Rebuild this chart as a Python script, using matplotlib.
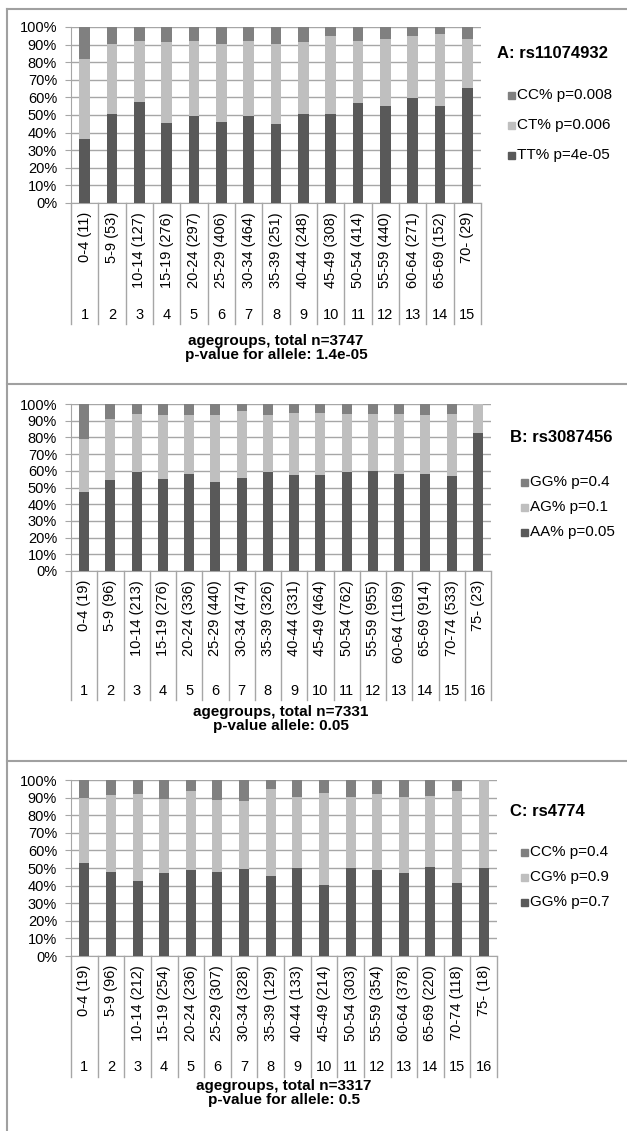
import matplotlib.pyplot as plt
from matplotlib.patches import Rectangle
from matplotlib.lines import Line2D
from matplotlib import transforms

plt.rcParams['font.family'] = ['Liberation Sans', 'DejaVu Sans']

W, H = 627, 1131

# panel A: rs11074932
groups_a = ['0-4 (11)', '5-9 (53)', '10-14 (127)', '15-19 (276)', '20-24 (297)',
            '25-29 (406)', '30-34 (464)', '35-39 (251)', '40-44 (248)', '45-49 (308)',
            '50-54 (414)', '55-59 (440)', '60-64 (271)', '65-69 (152)', '70- (29)']
tt_a = [36.2, 50.8, 57.2, 45.5, 49.6, 46.2, 49.6, 44.7, 50.6, 50.8, 56.6, 55.1, 59.8, 55.1, 65.2]
ct_a = [45.4, 39.5, 34.8, 46.0, 42.3, 44.3, 42.3, 45.5, 40.7, 44.3, 35.6, 38.1, 34.9, 40.9, 27.8]
cc_a = [18.4, 9.7, 8.0, 8.5, 8.1, 9.5, 8.1, 9.8, 8.7, 4.9, 7.8, 6.8, 5.3, 4.0, 7.0]
legend_a = ['CC% p=0.008', 'CT% p=0.006', 'TT% p=4e-05']

# panel B: rs3087456
groups_b = ['0-4 (19)', '5-9 (96)', '10-14 (213)', '15-19 (276)', '20-24 (336)',
            '25-29 (440)', '30-34 (474)', '35-39 (326)', '40-44 (331)', '45-49 (464)',
            '50-54 (762)', '55-59 (955)', '60-64 (1169)', '65-69 (914)', '70-74 (533)', '75- (23)']
aa_b = [47.4, 54.2, 59.2, 54.8, 58.0, 53.2, 55.6, 59.0, 57.2, 57.6, 59.4, 59.6, 58.0, 58.0, 56.6, 82.4]
ag_b = [31.8, 36.6, 34.8, 38.4, 35.6, 40.4, 40.4, 34.2, 37.6, 37.2, 34.4, 34.6, 35.8, 35.6, 37.4, 17.6]
gg_b = [20.8, 9.2, 6.0, 6.8, 6.4, 6.4, 4.0, 6.8, 5.2, 5.2, 6.2, 5.8, 6.2, 6.4, 6.0, 0.0]
legend_b = ['GG% p=0.4', 'AG% p=0.1', 'AA% p=0.05']

# panel C: rs4774
groups_c = ['0-4 (19)', '5-9 (96)', '10-14 (212)', '15-19 (254)', '20-24 (236)',
            '25-29 (307)', '30-34 (328)', '35-39 (129)', '40-44 (133)', '45-49 (214)',
            '50-54 (303)', '55-59 (354)', '60-64 (378)', '65-69 (220)', '70-74 (118)', '75- (18)']
gg_c = [52.7, 47.9, 42.6, 47.2, 48.7, 47.7, 49.4, 45.6, 50.2, 40.5, 49.8, 48.9, 47.0, 50.8, 41.3, 49.8]
cg_c = [36.9, 43.4, 49.4, 41.8, 45.1, 40.9, 38.7, 49.1, 40.0, 52.1, 40.4, 43.1, 43.5, 40.1, 52.6, 50.2]
cc_c = [10.4, 8.7, 8.0, 11.0, 6.2, 11.4, 11.9, 5.3, 9.8, 7.4, 9.8, 8.0, 9.5, 9.1, 6.1, 0.0]
legend_c = ['CC% p=0.4', 'CG% p=0.9', 'GG% p=0.7']

DARK, LIGHT, MID = '#595959', '#bfbfbf', '#808080'
GRID = '#a6a6a6'


def fx(px):
    return px / W


def fy(py):
    return 1 - py / H


def panel(fig, box, groups, low, middle, top, legend, title, xlab1, xlab2, layout):
    left, right, ytop, ybot = box
    ax = fig.add_axes([fx(left), fy(ybot), fx(right - left), (ybot - ytop) / H])
    n = len(groups)
    x = list(range(n))
    ax.bar(x, low, width=0.38, color=DARK, zorder=3)
    ax.bar(x, middle, bottom=low, width=0.38, color=LIGHT, zorder=3)
    base = [a + b for a, b in zip(low, middle)]
    ax.bar(x, top, bottom=base, width=0.38, color=MID, zorder=3)
    ax.set_xlim(-0.5, n - 0.5)
    ax.set_ylim(0, 100)
    ax.set_yticks(range(0, 101, 10))
    ax.set_yticklabels([f'{v}%' for v in range(0, 101, 10)], fontsize=10.5)
    ax.yaxis.grid(True, color=GRID, lw=1, zorder=0)
    ax.tick_params(axis='y', length=4, color=GRID, pad=6)
    ax.set_xticks([])
    for s in ['top', 'right']:
        ax.spines[s].set_visible(False)
    for s in ['left', 'bottom']:
        ax.spines[s].set_color(GRID)

    lab_off, num_off, sep_len, xl_off = layout
    ah = ybot - ytop
    tr = transforms.blended_transform_factory(ax.transData, ax.transAxes)
    for i in range(n + 1):
        ax.add_line(Line2D([i - 0.5, i - 0.5], [0, -sep_len / ah], transform=tr,
                           color=GRID, lw=1, clip_on=False))
    for i, g in enumerate(groups):
        ax.annotate(g, xy=(i, 0), xycoords=('data', 'axes fraction'),
                    xytext=(0, -lab_off), textcoords='offset pixels',
                    rotation=90, ha='center', va='top', fontsize=10.5)
        ax.annotate(str(i + 1), xy=(i, 0), xycoords=('data', 'axes fraction'),
                    xytext=(0, -num_off), textcoords='offset pixels',
                    ha='center', va='center', fontsize=10.5)
    cx = fx((left + right) / 2)
    fig.text(cx, fy(ybot + xl_off), xlab1, ha='center', va='center',
             fontsize=11, fontweight='bold')
    fig.text(cx, fy(ybot + xl_off + 14), xlab2, ha='center', va='center',
             fontsize=11, fontweight='bold')

    tx, ty, ly0, dy = legend_pos[title[0]]
    fig.text(fx(tx), fy(ty), title, ha='left', va='center', fontsize=12, fontweight='bold')
    for k, (lab, col) in enumerate(zip(legend, [MID, LIGHT, DARK])):
        yy = ly0 + k * dy
        fig.add_artist(Rectangle((fx(tx + 11), fy(yy + 3.5)), 7 / W, 7 / H,
                                 transform=fig.transFigure, color=col))
        fig.text(fx(tx + 20), fy(yy), lab, ha='left', va='center', fontsize=11)
    return ax


legend_pos = {
    'A': (497, 54, 95, 30),
    'B': (510, 437, 482, 25),
    'C': (510, 812, 852, 25),
}

fig = plt.figure(figsize=(W / 100, H / 100), dpi=100)

panel(fig, (71, 481, 27, 203), groups_a, tt_a, ct_a, cc_a, legend_a, 'A: rs11074932',
      'agegroups, total n=3747', 'p-value for allele: 1.4e-05', (9, 112, 121, 138))
panel(fig, (71, 491, 404, 571), groups_b, aa_b, ag_b, gg_b, legend_b, 'B: rs3087456',
      'agegroups, total n=7331', 'p-value allele: 0.05', (9, 120, 129, 141))
panel(fig, (71, 497, 780, 956), groups_c, gg_c, cg_c, cc_c, legend_c, 'C: rs4774',
      'agegroups, total n=3317', 'p-value for allele: 0.5', (9, 111, 121, 130))

# panel frames
BORDER = '#a0a0a0'
fig.add_artist(Line2D([fx(7), fx(7)], [0, fy(9)], transform=fig.transFigure, color=BORDER, lw=1.5))
for yb in [9, 384, 761]:
    fig.add_artist(Line2D([fx(7), 1], [fy(yb), fy(yb)], transform=fig.transFigure,
                          color=BORDER, lw=1.5))

fig.savefig('out.png', dpi=100)
